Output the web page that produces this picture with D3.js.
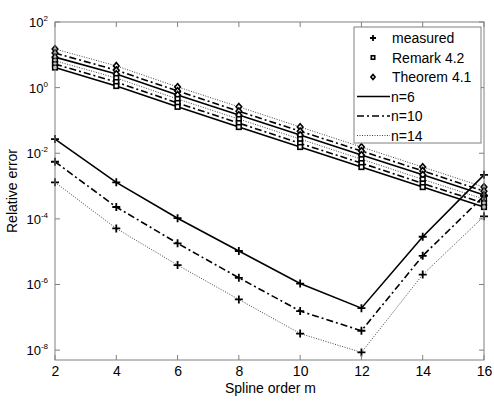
<!DOCTYPE html>
<html><head><meta charset="utf-8">
<script src="https://cdn.jsdelivr.net/npm/d3@7"></script>
<style>body{margin:0;background:#fff}svg{display:block}text{font-family:"Liberation Sans",Arial,sans-serif;fill:#000}</style>
</head><body><svg id="c" width="494" height="405"></svg>
<script>
const orders = [2, 4, 6, 8, 10, 12, 14, 16];
const yTickExps = [-8, -6, -4, -2, 0, 2];
const xTicks = [2, 4, 6, 8, 10, 12, 14, 16];
// measured errors
const measuredN6  = [2.7e-2, 1.3e-3, 1.05e-4, 1.05e-5, 1.07e-6, 1.9e-7, 2.85e-5, 2.2e-3];
const measuredN10 = [5.5e-3, 2.3e-4, 1.8e-5, 1.6e-6, 1.55e-7, 3.9e-8, 7.5e-6, 5.0e-4];
const measuredN14 = [1.3e-3, 5.1e-5, 3.9e-6, 3.5e-7, 3.2e-8, 8.5e-9, 2.0e-6, 1.2e-4];
// Theorem 4.1 bounds
const theoremN14 = [15, 4.6, 1.05, 0.26, 0.063, 0.0155, 0.0038, 0.00093];
const theoremN10 = [11.3, 3.4, 0.79, 0.19, 0.047, 0.0117, 0.0029, 0.0007];
const theoremN6  = [8.5, 2.6, 0.6, 0.146, 0.036, 0.0088, 0.0022, 0.00053];
// Remark 4.2 bounds
const remarkN14 = [6.6, 1.96, 0.45, 0.11, 0.027, 0.0066, 0.0016, 0.0004];
const remarkN10 = [5.2, 1.48, 0.34, 0.083, 0.020, 0.005, 0.0012, 0.0003];
const remarkN6  = [4.1, 1.12, 0.26, 0.063, 0.0155, 0.0038, 0.00093, 0.00023];

const L = 55, R = 484, T = 22, B = 360;
const svg = d3.select("#c");
const x = d3.scaleLinear().domain([2, 16]).range([L, R]);
const y = d3.scaleLog().domain([5e-9, 100]).range([B, T]);

const styles = {
  6:  {dash: null, w: 1.6, c: "#000"},
  10: {dash: "7,3,2,3", w: 1.6, c: "#000"},
  14: {dash: "1,1.5", w: 1, c: "#444"}
};
const series = [
  {v: theoremN14, n: 14, m: "diamond"}, {v: theoremN10, n: 10, m: "diamond"}, {v: theoremN6, n: 6, m: "diamond"},
  {v: remarkN14, n: 14, m: "square"}, {v: remarkN10, n: 10, m: "square"}, {v: remarkN6, n: 6, m: "square"},
  {v: measuredN6, n: 6, m: "plus"}, {v: measuredN10, n: 10, m: "plus"}, {v: measuredN14, n: 14, m: "plus"}
];

svg.append("rect").attr("x", L).attr("y", T).attr("width", R - L).attr("height", B - T)
  .attr("fill", "#fff");

const line = d3.line().x((d, i) => x(orders[i])).y(d => y(d));
const g = svg.append("g");
function marker(sel, type, cx, cy, s) {
  s = s || 1;
  if (type === "plus") {
    const h = 4 * s;
    sel.append("path").attr("d", `M${cx-h},${cy}H${cx+h}M${cx},${cy-h}V${cy+h}`)
      .attr("stroke", "#000").attr("stroke-width", 1.8).attr("fill", "none");
  } else if (type === "square") {
    const h = 2.3 * s;
    sel.append("rect").attr("x", cx - h).attr("y", cy - h).attr("width", 2 * h).attr("height", 2 * h)
      .attr("fill", "#fff").attr("stroke", "#000").attr("stroke-width", 1.6);
  } else {
    const h = 3.3 * s, w = 2.8 * s;
    sel.append("path").attr("d", `M${cx},${cy-h}L${cx+w},${cy}L${cx},${cy+h}L${cx-w},${cy}Z`)
      .attr("fill", "#fff").attr("stroke", "#000").attr("stroke-width", 1.6);
  }
}
series.forEach(s => {
  const st = styles[s.n];
  g.append("path").attr("d", line(s.v)).attr("fill", "none").attr("stroke", st.c)
    .attr("stroke-width", st.w).attr("stroke-dasharray", st.dash);
});
series.forEach(s => {
  s.v.forEach((d, i) => marker(g, s.m, x(orders[i]), y(d)));
});

// axes box
const ax = svg.append("g").attr("stroke", "#808080").attr("fill", "none");
ax.append("rect").attr("x", L).attr("y", T).attr("width", R - L).attr("height", B - T).attr("stroke-width", 1);
xTicks.forEach(t => {
  ax.append("line").attr("x1", x(t)).attr("x2", x(t)).attr("y1", B).attr("y2", B - 5);
  ax.append("line").attr("x1", x(t)).attr("x2", x(t)).attr("y1", T).attr("y2", T + 5);
});
yTickExps.forEach(e => {
  const yy = y(Math.pow(10, e));
  ax.append("line").attr("x1", L).attr("x2", L + 5).attr("y1", yy).attr("y2", yy);
  ax.append("line").attr("x1", R).attr("x2", R - 5).attr("y1", yy).attr("y2", yy);
});
const xAxis = d3.axisBottom(x).tickValues(xTicks).tickSize(0).tickPadding(0).tickFormat(d3.format("d"));
const xg = svg.append("g").attr("transform", `translate(0,${B})`).call(xAxis);
xg.select(".domain").remove();
xg.selectAll("text").attr("font-size", 14).attr("dy", null).attr("y", 16)
  .style("font-family", "Liberation Sans, Arial, sans-serif");

yTickExps.forEach(e => {
  const yy = y(Math.pow(10, e));
  const t = svg.append("text").attr("x", 48).attr("y", yy + 5).attr("text-anchor", "end").attr("font-size", 13);
  t.append("tspan").text("10");
  t.append("tspan").attr("dy", -6).attr("font-size", 8).text(String(e));
});

svg.append("text").attr("x", (L + R) / 2 + 1).attr("y", 393).attr("text-anchor", "middle")
  .attr("font-size", 14).text("Spline order m");
svg.append("text").attr("transform", `translate(17,${(T + B) / 2}) rotate(-90)`)
  .attr("text-anchor", "middle").attr("font-size", 14).text("Relative error");

// legend
const lg = svg.append("g");
lg.append("rect").attr("x", 354).attr("y", 27).attr("width", 127).attr("height", 116)
  .attr("fill", "#fff").attr("stroke", "#808080").attr("stroke-width", 1);
const legMarks = [["plus", "measured"], ["square", "Remark 4.2"], ["diamond", "Theorem 4.1"]];
legMarks.forEach((d, i) => {
  const yy = 38 + i * 19.5;
  marker(lg, d[0], 373, yy, 0.75);
  lg.append("text").attr("x", 392).attr("y", yy + 5).attr("font-size", 14).text(d[1]);
});
[6, 10, 14].forEach((n, i) => {
  const yy = 96.5 + i * 19.5;
  const st = styles[n];
  lg.append("line").attr("x1", 357).attr("x2", 390).attr("y1", yy).attr("y2", yy)
    .attr("stroke", st.c).attr("stroke-width", st.w).attr("stroke-dasharray", st.dash);
  lg.append("text").attr("x", 391).attr("y", yy + 5).attr("font-size", 14).text("n=" + n);
});
</script></body></html>
